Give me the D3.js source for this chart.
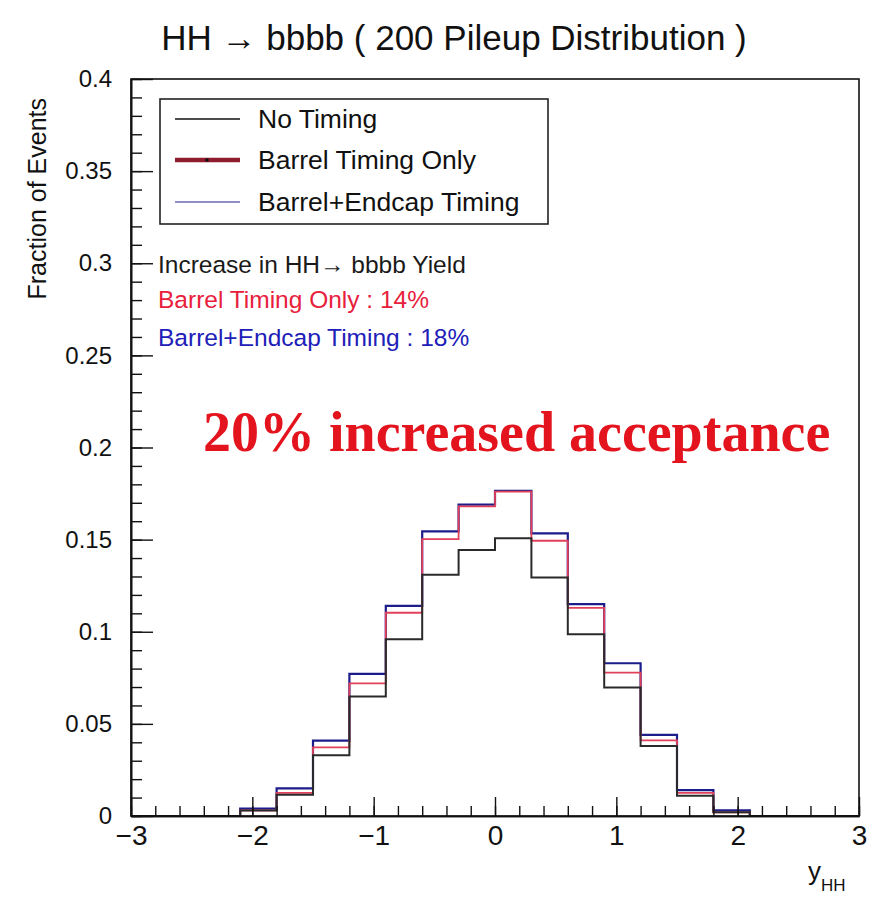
<!DOCTYPE html>
<html>
<head>
<meta charset="utf-8">
<script src="https://cdn.jsdelivr.net/npm/d3@7"></script>
<style>
  html, body { margin: 0; padding: 0; background: #fff; }
  svg { display: block; }
</style>
</head>
<body>
<svg id="chart" width="869" height="906"></svg>
<script>
// Histogram bins of y_HH (lower edges, width 0.3, range -3 .. 3)
const binLowEdges = [-3.0, -2.7, -2.4, -2.1, -1.8, -1.5, -1.2, -0.9, -0.6, -0.3,
                     0.0, 0.3, 0.6, 0.9, 1.2, 1.5, 1.8, 2.1, 2.4, 2.7];
const binWidth = 0.3;

// Fraction of events per bin
const noTiming =       [0, 0, 0, 0.003, 0.0115, 0.0330, 0.0648, 0.0959, 0.1310, 0.1444,
                        0.1507, 0.1295, 0.0986, 0.0698, 0.0380, 0.0110, 0.0020, 0, 0, 0];
const barrelTiming =   [0, 0, 0, 0.003, 0.0126, 0.0373, 0.0720, 0.1103, 0.1503, 0.1680,
                        0.1760, 0.1494, 0.1130, 0.0778, 0.0410, 0.0125, 0.0020, 0, 0, 0];
const barrelEndcap =   [0, 0, 0, 0.004, 0.0150, 0.0409, 0.0771, 0.1140, 0.1545, 0.1690,
                        0.1765, 0.1534, 0.1150, 0.0829, 0.0440, 0.0140, 0.0030, 0, 0, 0];

const seriesNames = ["No Timing", "Barrel Timing Only", "Barrel+Endcap Timing"];

// Axis ticks and labels
const xMajorTicks = [-3, -2, -1, 0, 1, 2, 3];
const xTickLabels = ["\u22123", "\u22122", "\u22121", "0", "1", "2", "3"];
const yMajorTicks = [0, 0.05, 0.1, 0.15, 0.2, 0.25, 0.3, 0.35, 0.4];
const yTickLabels = ["0", "0.05", "0.1", "0.15", "0.2", "0.25", "0.3", "0.35", "0.4"];

const titleText = "HH \u2192 bbbb ( 200 Pileup Distribution )";
const yieldLines = [
  { text: "Increase in HH\u2192 bbbb Yield", color: "#1a1a1a" },
  { text: "Barrel Timing Only : 14%", color: "#e8203c" },
  { text: "Barrel+Endcap Timing : 18%", color: "#2020b8" }
];
const bannerText = "20% increased acceptance";

const SANS = "'Liberation Sans', Arial, Helvetica, sans-serif";
const SERIF = "'Liberation Serif', 'Times New Roman', serif";

const svg = d3.select("#chart");

const x = d3.scaleLinear().domain([-3, 3]).range([131, 859]);
const y = d3.scaleLinear().domain([0, 0.4]).range([816, 79]);

// Title
svg.append("text")
  .attr("x", 454).attr("y", 50)
  .attr("text-anchor", "middle")
  .style("font-family", SANS)
  .attr("font-size", 35)
  .attr("fill", "#111")
  .text(titleText);

// Histogram outlines (step lines)
function stepPoints(values) {
  const pts = [];
  values.forEach((v, i) => {
    pts.push([binLowEdges[i], v]);
    pts.push([binLowEdges[i] + binWidth, v]);
  });
  return pts;
}
const line = d3.line().x(d => x(d[0])).y(d => y(d[1]));

const histG = svg.append("g").attr("fill", "none");
const histStyles = [
  { values: barrelEndcap, color: "#1c1c8a", width: 2.2 },
  { values: barrelTiming, color: "#e2405a", width: 1.8 },
  { values: noTiming, color: "#2a2a2a", width: 2.0 }
];
histStyles.forEach(s => {
  histG.append("path")
    .attr("d", line(stepPoints(s.values)))
    .attr("stroke", s.color)
    .attr("stroke-width", s.width)
    .attr("stroke-linejoin", "miter");
});

// Frame
svg.append("rect")
  .attr("x", x(-3)).attr("y", y(0.4))
  .attr("width", x(3) - x(-3)).attr("height", y(0) - y(0.4))
  .attr("fill", "none").attr("stroke", "#111").attr("stroke-width", 1.6);

// X axis: major and minor ticks pointing inward
const xMinor = svg.append("g")
  .attr("transform", `translate(0,${y(0)})`)
  .call(d3.axisBottom(x).tickValues(d3.range(-3, 3.0001, 0.2)).tickSizeInner(-10).tickSizeOuter(0).tickFormat(""));
const xAxis = svg.append("g")
  .attr("transform", `translate(0,${y(0)})`)
  .call(d3.axisBottom(x).tickValues(xMajorTicks).tickSizeInner(-19).tickSizeOuter(0).tickPadding(9)
    .tickFormat((d, i) => xTickLabels[i]));

// Y axis: major and minor ticks pointing inward
const yMinor = svg.append("g")
  .attr("transform", `translate(${x(-3)},0)`)
  .call(d3.axisLeft(y).tickValues(d3.range(0, 0.4001, 0.01)).tickSizeInner(-11).tickSizeOuter(0).tickFormat(""));
const yAxis = svg.append("g")
  .attr("transform", `translate(${x(-3)},0)`)
  .call(d3.axisLeft(y).tickValues(yMajorTicks).tickSizeInner(-22).tickSizeOuter(0).tickPadding(19)
    .tickFormat((d, i) => yTickLabels[i]));

[xMinor, xAxis, yMinor, yAxis].forEach(g => {
  g.select(".domain").attr("stroke", "#111").attr("stroke-width", 1.6);
  g.selectAll(".tick line").attr("stroke", "#111").attr("stroke-width", 1.4);
  g.selectAll(".tick text").attr("fill", "#111").style("font-family", SANS);
});
xAxis.selectAll(".tick text").attr("font-size", 28);
yAxis.selectAll(".tick text").attr("font-size", 24);

// Axis titles
svg.append("text")
  .attr("transform", "translate(46,98) rotate(-90)")
  .attr("text-anchor", "end")
  .style("font-family", SANS)
  .attr("font-size", 25)
  .attr("fill", "#111")
  .text("Fraction of Events");

const xt = svg.append("text")
  .attr("x", 808).attr("y", 880)
  .style("font-family", SANS)
  .attr("font-size", 26).attr("fill", "#111");
xt.append("tspan").text("y");
xt.append("tspan").attr("dy", 11).attr("font-size", 17).text("HH");

// Legend
const legend = svg.append("g");
legend.append("rect")
  .attr("x", 160).attr("y", 99).attr("width", 388).attr("height", 125)
  .attr("fill", "#fff").attr("stroke", "#222").attr("stroke-width", 1.6);
const legendStyles = [
  { color: "#111", width: 1.6 },
  { color: "#8e1b2e", width: 4.5 },
  { color: "#6a6ab4", width: 1.6 }
];
const legendRows = [119, 160, 202];
seriesNames.forEach((name, i) => {
  legend.append("line")
    .attr("x1", 175).attr("x2", 240)
    .attr("y1", legendRows[i]).attr("y2", legendRows[i])
    .attr("stroke", legendStyles[i].color).attr("stroke-width", legendStyles[i].width);
  legend.append("text")
    .attr("x", 258).attr("y", legendRows[i])
    .attr("dy", "0.35em")
    .style("font-family", SANS)
    .attr("font-size", 26.5).attr("fill", "#111")
    .text(name);
});
legend.append("circle").attr("cx", 207).attr("cy", legendRows[1]).attr("r", 1.8).attr("fill", "#111");

// Yield annotations
const yieldRows = [264, 299, 337];
yieldLines.forEach((d, i) => {
  svg.append("text")
    .attr("x", 158).attr("y", yieldRows[i])
    .attr("dy", "0.35em")
    .style("font-family", SANS)
    .attr("font-size", 24.5)
    .attr("fill", d.color)
    .text(d.text);
});

// Banner
svg.append("text")
  .attr("x", 203).attr("y", 451)
  .style("font-family", SERIF)
  .attr("font-weight", "bold")
  .attr("font-size", 56)
  .attr("fill", "#e3141e")
  .text(bannerText);
</script>
</body>
</html>
